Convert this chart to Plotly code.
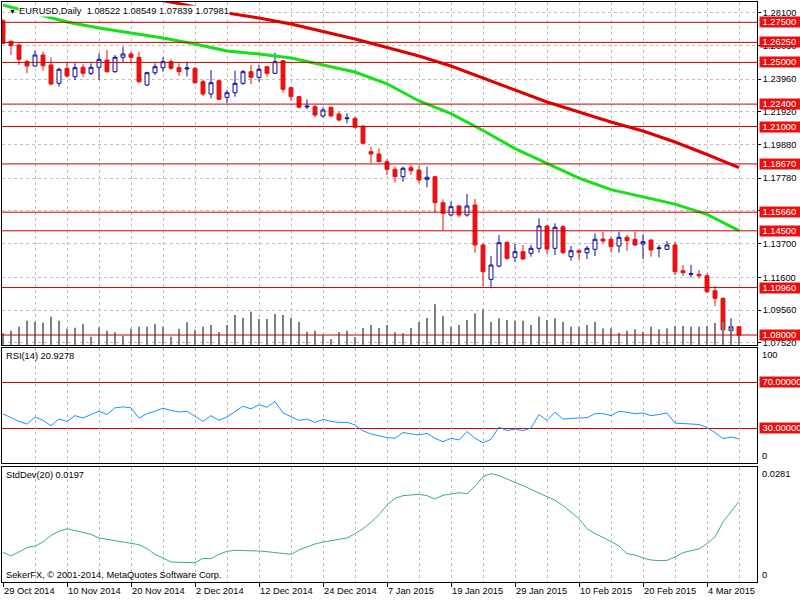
import plotly.graph_objects as go
import pandas as pd

# ---------------- data ----------------
opens = [1.27601, 1.26317, 1.26086, 1.25044, 1.24776, 1.25462, 1.24839, 1.23697, 1.24633, 1.24109,
         1.24695, 1.24321, 1.24695, 1.25150, 1.24421, 1.25319, 1.25525, 1.25319, 1.23591, 1.24358,
         1.24670, 1.25044, 1.24670, 1.24589, 1.24633, 1.23797, 1.23030, 1.23860, 1.22824, 1.23111,
         1.23697, 1.24421, 1.24072, 1.24733, 1.24321, 1.25107, 1.23423, 1.22862, 1.22220, 1.22238,
         1.21658, 1.22201, 1.21783, 1.21490, 1.21515, 1.21035, 1.19432, 1.19289, 1.18808, 1.18335,
         1.17873, 1.18434, 1.18291, 1.17711, 1.17873, 1.16252, 1.15485, 1.16046, 1.15485, 1.16108,
         1.13614, 1.11475, 1.12304, 1.13782, 1.12847, 1.13196, 1.13096, 1.13408, 1.14799, 1.13408,
         1.14755, 1.12884, 1.13258, 1.13134, 1.13346, 1.13988, 1.13969, 1.13551, 1.14094, 1.13969,
         1.13676, 1.13926, 1.13390, 1.13346, 1.13614, 1.12011, 1.11787, 1.11787, 1.11699, 1.10764,
         1.10290, 1.08270, 1.08522]
highs = [1.27707, 1.26366, 1.26179, 1.25150, 1.25730, 1.25668, 1.25319, 1.24670, 1.25044, 1.24945,
         1.24882, 1.24945, 1.25568, 1.25774, 1.25462, 1.25980, 1.25668, 1.25668, 1.24421, 1.24945,
         1.25319, 1.25194, 1.24945, 1.25044, 1.24695, 1.23903, 1.24527, 1.23903, 1.23280, 1.24483,
         1.24527, 1.24839, 1.24839, 1.24776, 1.25606, 1.25150, 1.23485, 1.22905, 1.22700, 1.22344,
         1.22201, 1.22238, 1.21926, 1.21827, 1.21615, 1.21060, 1.19744, 1.19644, 1.18958, 1.18497,
         1.18497, 1.18603, 1.18540, 1.18497, 1.17917, 1.16464, 1.16314, 1.16108, 1.16794, 1.16482,
         1.13720, 1.12928, 1.14237, 1.13820, 1.13676, 1.13614, 1.13614, 1.15279, 1.14861, 1.14967,
         1.14861, 1.13551, 1.13346, 1.13551, 1.14343, 1.14443, 1.14131, 1.14443, 1.14237, 1.14443,
         1.14281, 1.13969, 1.13614, 1.13863, 1.13820, 1.12367, 1.12367, 1.12055, 1.11849, 1.11057,
         1.10352, 1.09043, 1.08549]
lows = [1.26148, 1.25462, 1.24839, 1.24321, 1.24733, 1.24483, 1.23573, 1.23485, 1.24072, 1.23903,
        1.24109, 1.24215, 1.23903, 1.24358, 1.24358, 1.25044, 1.24945, 1.23697, 1.23529, 1.24215,
        1.24421, 1.24527, 1.24153, 1.24109, 1.23654, 1.22905, 1.22762, 1.22656, 1.22450, 1.22862,
        1.23591, 1.23654, 1.23797, 1.24109, 1.24277, 1.23111, 1.22612, 1.22138, 1.22076, 1.21577,
        1.21577, 1.21615, 1.21303, 1.21203, 1.20891, 1.19912, 1.18709, 1.18790, 1.17979, 1.17499,
        1.17561, 1.17979, 1.17461, 1.17212, 1.15628, 1.14549, 1.15379, 1.15341, 1.15379, 1.13134,
        1.11057, 1.10914, 1.12223, 1.12678, 1.12572, 1.12678, 1.12884, 1.13134, 1.13053, 1.12990,
        1.13053, 1.12635, 1.12678, 1.12741, 1.12928, 1.13720, 1.13134, 1.13134, 1.13240, 1.13551,
        1.12741, 1.12884, 1.12847, 1.13302, 1.11743, 1.11681, 1.11600, 1.11537, 1.10602, 1.09810,
        1.08270, 1.08207, 1.07839]
closes = [1.26192, 1.26042, 1.25194, 1.24776, 1.25462, 1.24795, 1.23654, 1.24571, 1.24153, 1.24670,
          1.24321, 1.24695, 1.25194, 1.24421, 1.25319, 1.25525, 1.25319, 1.23797, 1.24358, 1.24733,
          1.25044, 1.24633, 1.24421, 1.24652, 1.23735, 1.23030, 1.23735, 1.22700, 1.23111, 1.23697,
          1.24421, 1.24072, 1.24571, 1.24321, 1.25044, 1.23323, 1.22862, 1.22201, 1.22269, 1.21721,
          1.22032, 1.21658, 1.21409, 1.21534, 1.20954, 1.19956, 1.19289, 1.18808, 1.18335, 1.17873,
          1.18397, 1.18247, 1.17667, 1.17836, 1.16252, 1.15591, 1.16002, 1.15485, 1.16046, 1.13614,
          1.11949, 1.12367, 1.13757, 1.12784, 1.13196, 1.12741, 1.13408, 1.14799, 1.13364, 1.14718,
          1.13134, 1.13258, 1.13159, 1.13408, 1.13969, 1.13863, 1.13508, 1.14094, 1.13882, 1.13614,
          1.13820, 1.13302, 1.13428, 1.13614, 1.11949, 1.11886, 1.11824, 1.11699, 1.10702, 1.10290,
          1.08313, 1.08519, 1.07981]
volumes = [46800, 57200, 73200, 97200, 93200, 89200, 113200, 97200, 65200, 69200,
           84000, 33200, 70800, 57200, 50800, 37200, 65200, 73200, 73200, 84000,
           73200, 33200, 65200, 90800, 60000, 73200, 80000, 52000, 80000, 120000,
           109200, 133200, 104000, 104000, 124000, 120000, 108000, 93200, 53200, 57200,
           40000, 22800, 52000, 57200, 32000, 68000, 80000, 68000, 80000, 50800,
           46800, 68000, 92000, 108000, 164000, 116000, 73200, 80000, 100000, 126800,
           142800, 93200, 106800, 100000, 97200, 97200, 80000, 113200, 100000, 106800,
           93200, 73200, 73200, 80000, 93200, 66800, 66800, 49200, 57200, 62800,
           53200, 73200, 62800, 66800, 76000, 76000, 73200, 73200, 76000, 88000,
           93200, 76000, 40000]
rsi = [42.7, 39.1, 36.2, 33.8, 40.0, 37.1, 32.4, 38.2, 36.2, 41.2,
       39.1, 42.1, 45.0, 42.1, 48.0, 48.8, 48.0, 39.1, 42.9, 45.0,
       47.7, 45.6, 44.4, 45.0, 40.6, 36.2, 41.2, 37.1, 40.0, 45.0,
       49.4, 47.1, 50.6, 48.5, 53.5, 43.5, 40.0, 37.1, 38.2, 35.3,
       37.9, 36.2, 35.3, 35.3, 33.2, 27.9, 25.3, 23.5, 22.1, 21.5,
       26.5, 25.3, 24.4, 25.9, 21.5, 18.5, 21.5, 20.0, 27.4, 21.5,
       17.6, 20.6, 31.2, 28.2, 29.4, 28.2, 30.3, 42.1, 37.1, 44.1,
       38.2, 38.8, 38.8, 39.4, 42.9, 42.9, 41.2, 45.0, 44.1, 42.9,
       43.5, 41.2, 42.1, 43.5, 34.7, 34.1, 33.8, 33.5, 30.9, 26.5,
       21.2, 22.6, 20.9278]
stddev = [0.00725, 0.00635, 0.00733, 0.00839, 0.00880, 0.00977, 0.01140, 0.01238, 0.01303, 0.01262,
          0.01222, 0.01165, 0.01075, 0.01043, 0.01018, 0.00986, 0.00953, 0.00912, 0.00815, 0.00676,
          0.00586, 0.00489, 0.00481, 0.00481, 0.00472, 0.00578, 0.00570, 0.00676, 0.00749, 0.00774,
          0.00774, 0.00766, 0.00757, 0.00741, 0.00717, 0.00684, 0.00676, 0.00782, 0.00855, 0.00929,
          0.00977, 0.01010, 0.01051, 0.01075, 0.01181, 0.01303, 0.01458, 0.01645, 0.01881, 0.02044,
          0.02110, 0.02134, 0.02142, 0.02110, 0.02028, 0.02118, 0.02158, 0.02183, 0.02158, 0.02338,
          0.02574, 0.02647, 0.02598, 0.02525, 0.02435, 0.02354, 0.02264, 0.02175, 0.02093, 0.01996,
          0.01865, 0.01710, 0.01548, 0.01303, 0.01181, 0.01091, 0.00986, 0.00880, 0.00692, 0.00660,
          0.00586, 0.00538, 0.00521, 0.00529, 0.00611, 0.00717, 0.00766, 0.00806, 0.00937, 0.01100,
          0.01466, 0.01710, 0.0197]
ma_red_idx = [20, 24, 28, 32, 36, 40, 44, 48, 52, 56, 60, 64, 68, 72, 76, 80, 84, 88, 92]
ma_red = [1.28861, 1.28455, 1.28081, 1.27770, 1.27395, 1.26928, 1.26460, 1.25930, 1.25400, 1.24776,
          1.24028, 1.23280, 1.22531, 1.21908, 1.21284, 1.20723, 1.20037, 1.19258, 1.18434]
ma_green_idx = [0, 4, 8, 12, 16, 20, 24, 28, 32, 36, 40, 44, 48, 52, 56, 60, 64, 68, 72, 76, 80, 84, 88, 92]
ma_green = [1.28580, 1.28050, 1.27520, 1.27146, 1.26834, 1.26522, 1.26148, 1.25712, 1.25525, 1.25275,
            1.24839, 1.24402, 1.23666, 1.22594, 1.21808, 1.20754, 1.19625, 1.18702, 1.17780, 1.17069,
            1.16613, 1.16164, 1.15528, 1.14506]
hlines = [1.275, 1.2625, 1.25, 1.224, 1.21, 1.1867, 1.1566, 1.145, 1.1096, 1.08]
price_ticks = [1.281, 1.2603, 1.2396, 1.2192, 1.1988, 1.1778, 1.1574, 1.137, 1.116, 1.0956, 1.0752]
rsi_levels = [70, 30]
header = "EURUSD,Daily\u00a0\u00a01.08522 1.08549 1.07839 1.07981"
rsi_title = "RSI(14) 20.9278"
std_title = "StdDev(20) 0.0197"
copyright_txt = "SekerFX, \u00a9 2001-2014, MetaQuotes Software Corp."

# ---------------- derived axes ----------------
n = len(opens)
idx = list(range(n))
holidays = {(12, 25), (1, 1)}
dates = [d for d in pd.bdate_range("2014-10-29", "2015-03-10") if (d.month, d.day) not in holidays]
label_idx = list(range(0, n, 8))
label_txt = [f"{dates[i].day} {dates[i].strftime('%b %Y')}" for i in label_idx]
grid_idx = list(range(0, n, 4))
minor_idx = list(range(4, n, 8))

FONT = "Liberation Sans"
FS = 9.3
RED = "#e81010"
LINE_RED = "#c80000"
BLUE = "#0a0aa0"
GRID = "#c0c0c0"

fig = go.Figure()
fig.add_trace(go.Candlestick(
    x=idx, open=opens, high=highs, low=lows, close=closes, xaxis="x", yaxis="y",
    increasing=dict(line=dict(color=BLUE, width=1), fillcolor="white"),
    decreasing=dict(line=dict(color=RED, width=1), fillcolor=RED),
    whiskerwidth=0, hoverinfo="skip"))
fig.add_trace(go.Scatter(x=ma_red_idx, y=ma_red, mode="lines", xaxis="x", yaxis="y",
                         line=dict(color="#e00000", width=3)))
fig.add_trace(go.Scatter(x=ma_green_idx, y=ma_green, mode="lines", xaxis="x", yaxis="y",
                         line=dict(color="#18e018", width=3)))
fig.add_trace(go.Bar(x=idx, y=volumes, xaxis="x", yaxis="y4", width=0.13,
                     marker=dict(color="#808080", line=dict(width=0))))
fig.add_trace(go.Scatter(x=idx, y=rsi, mode="lines", xaxis="x2", yaxis="y2",
                         line=dict(color="#1e90ff", width=1)))
fig.add_trace(go.Scatter(x=idx, y=stddev, mode="lines", xaxis="x3", yaxis="y3",
                         line=dict(color="#3cb371", width=1)))

xcommon = dict(range=[-0.125, 94.25], showline=True, mirror=True, linecolor="black", linewidth=1,
               zeroline=False, showgrid=True, gridcolor=GRID, griddash="3px,3px", gridwidth=1,
               automargin=False, fixedrange=True)
ycommon = dict(side="right", showline=True, mirror=True, linecolor="black", linewidth=1,
               zeroline=False, automargin=False, fixedrange=True)
tickfont = dict(family=FONT, size=FS, color="black")

fig.update_layout(
    template="none",
    width=800, height=600,
    margin=dict(l=2, r=43, t=2, b=18),
    paper_bgcolor="white", plot_bgcolor="white",
    showlegend=False, hovermode=False,
    font=dict(family=FONT, size=FS, color="black"),
    xaxis=dict(**xcommon, anchor="y", tickvals=grid_idx, showticklabels=False, ticks="",
               rangeslider=dict(visible=False)),
    xaxis2=dict(**xcommon, anchor="y2", matches="x", tickvals=grid_idx, showticklabels=False, ticks=""),
    xaxis3=dict(**xcommon, anchor="y3", matches="x", tickvals=label_idx, ticktext=label_txt,
                ticks="outside", ticklen=4, tickcolor="black", tickfont=tickfont,
                ticklabelposition="outside right",
                minor=dict(tickvals=minor_idx, showgrid=True, gridcolor=GRID, griddash="3px,3px", ticks="")),
    yaxis=dict(**ycommon, anchor="x", domain=[0.40862, 1.0], range=[1.07378, 1.28767],
               tickvals=price_ticks, ticktext=[f"{v:.5f}" for v in price_ticks],
               ticks="outside", ticklen=3, tickcolor="black", tickfont=tickfont,
               showgrid=True, gridcolor=GRID, griddash="3px,3px"),
    yaxis4=dict(overlaying="y", range=[0, 1372000], visible=False, fixedrange=True),
    yaxis2=dict(**ycommon, anchor="x2", domain=[0.20517, 0.40345], range=[0, 100],
                showticklabels=False, ticks="", showgrid=False),
    yaxis3=dict(**ycommon, anchor="x3", domain=[0.0, 0.19828], range=[0, 0.0281],
                showticklabels=False, ticks="", showgrid=False),
)

shapes = []
for v in hlines:
    shapes.append(dict(type="line", xref="x domain", x0=0, x1=1, yref="y", y0=v, y1=v,
                       line=dict(color=LINE_RED, width=1), layer="above"))
for v in rsi_levels:
    shapes.append(dict(type="line", xref="x2 domain", x0=0, x1=1, yref="y2", y0=v, y1=v,
                       line=dict(color=LINE_RED, width=1), layer="below"))
fig.update_layout(shapes=shapes)


def red_box(y, yref, text):
    return dict(xref="paper", x=1, xanchor="left", xshift=2, yref=yref, y=y, yanchor="middle",
                text="\u00a0" + text, showarrow=False, bgcolor=RED, align="left",
                width=46, height=10, borderpad=0,
                font=dict(family=FONT, size=FS, color="white"))


def txt(x, xref, y, yref, text, xanchor, yanchor, xshift=0, yshift=0, size=FS, bg=None):
    d = dict(xref=xref, x=x, yref=yref, y=y, text=text, showarrow=False,
             xanchor=xanchor, yanchor=yanchor, xshift=xshift, yshift=yshift,
             borderpad=0, font=dict(family=FONT, size=size, color="black"))
    if bg:
        d["bgcolor"] = bg
    return d


ann = [red_box(v, "y", f"{v:.5f}") for v in hlines]
ann += [red_box(v, "y2", f"{v:.6f}") for v in rsi_levels]
ann += [
    txt(0, "paper", 1, "y domain", header, "left", "top", xshift=16, yshift=-3, bg="white"),
    txt(0, "paper", 1, "y domain", "\u25bc", "left", "top", xshift=6, yshift=-5, size=7),
    txt(0, "paper", 1, "y2 domain", rsi_title, "left", "top", xshift=3, yshift=-2),
    txt(0, "paper", 1, "y3 domain", std_title, "left", "top", xshift=3, yshift=-2),
    txt(0, "paper", 0, "y3 domain", copyright_txt, "left", "bottom", xshift=3, yshift=1),
    txt(1, "paper", 100, "y2", "100", "left", "top", xshift=4, yshift=-1),
    txt(1, "paper", 0, "y2", "0", "left", "bottom", xshift=4, yshift=1),
    txt(1, "paper", 0.0281, "y3", "0.0281", "left", "top", xshift=4, yshift=-1),
    txt(1, "paper", 0, "y3", "0", "left", "bottom", xshift=4, yshift=1),
]
fig.update_layout(annotations=ann)

fig.write_html("out.html")
